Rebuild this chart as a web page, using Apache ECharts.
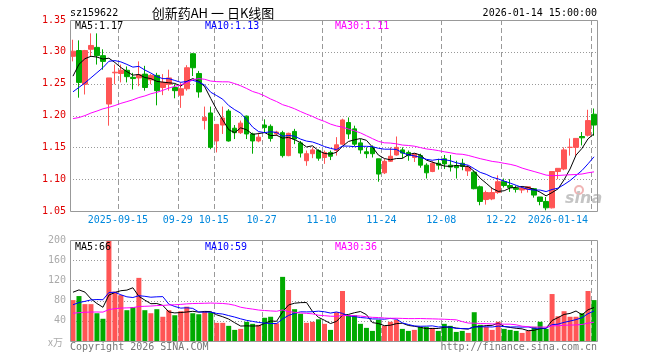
<!DOCTYPE html>
<html><head><meta charset="utf-8">
<script src="https://cdn.jsdelivr.net/npm/echarts@6/dist/echarts.min.js"></script>
<style>html,body{margin:0;padding:0;background:#fff}#c{width:660px;height:360px}</style>
</head><body><div id="c"></div>
<script>
// ---- data ----
const dates = [
 '2025-09-03','2025-09-04','2025-09-05','2025-09-08','2025-09-09','2025-09-10','2025-09-11','2025-09-12',
 '2025-09-15','2025-09-16','2025-09-17','2025-09-18','2025-09-19','2025-09-22','2025-09-23','2025-09-24','2025-09-25','2025-09-26','2025-09-29','2025-09-30',
 '2025-10-09','2025-10-10','2025-10-13','2025-10-14','2025-10-15','2025-10-16','2025-10-17','2025-10-20','2025-10-21','2025-10-22','2025-10-23','2025-10-24','2025-10-27','2025-10-28','2025-10-29','2025-10-30','2025-10-31',
 '2025-11-03','2025-11-04','2025-11-05','2025-11-06','2025-11-07','2025-11-10','2025-11-11','2025-11-12','2025-11-13','2025-11-14','2025-11-17','2025-11-18','2025-11-19','2025-11-20','2025-11-21','2025-11-24','2025-11-25','2025-11-26','2025-11-27','2025-11-28',
 '2025-12-01','2025-12-02','2025-12-03','2025-12-04','2025-12-05','2025-12-08','2025-12-09','2025-12-10','2025-12-11','2025-12-12','2025-12-15','2025-12-16','2025-12-17','2025-12-18','2025-12-19','2025-12-22','2025-12-23','2025-12-24','2025-12-25','2025-12-26','2025-12-29','2025-12-30','2025-12-31',
 '2026-01-05','2026-01-06','2026-01-07','2026-01-08','2026-01-09','2026-01-12','2026-01-13','2026-01-14'
];
const opens = [
 1.293,1.302,1.249,1.304,1.307,1.294,1.218,1.267,1.266,1.271,
 1.260,1.259,1.265,1.256,1.263,1.244,1.249,1.244,1.232,1.242,
 1.297,1.266,1.192,1.204,1.160,1.185,1.207,1.180,1.173,1.199,
 1.171,1.160,1.185,1.183,1.171,1.173,1.137,1.175,1.157,1.129,
 1.140,1.145,1.134,1.142,1.145,1.155,1.189,1.179,1.157,1.143,
 1.150,1.132,1.110,1.128,1.138,1.146,1.142,1.134,1.137,1.122,
 1.112,1.125,1.132,1.122,1.121,1.125,1.113,1.111,1.088,1.068,
 1.069,1.079,1.096,1.090,1.086,1.083,1.084,1.085,1.072,1.065,
 1.055,1.112,1.116,1.150,1.150,1.167,1.169,1.202
];
const closes = [
 1.301,1.252,1.302,1.310,1.294,1.285,1.259,1.268,1.271,1.261,
 1.258,1.264,1.244,1.263,1.239,1.252,1.259,1.239,1.242,1.275,
 1.275,1.237,1.197,1.150,1.186,1.196,1.160,1.173,1.188,1.171,
 1.160,1.166,1.181,1.164,1.174,1.137,1.172,1.163,1.141,1.140,
 1.146,1.133,1.142,1.136,1.154,1.193,1.171,1.155,1.146,1.140,
 1.140,1.108,1.128,1.136,1.150,1.141,1.137,1.140,1.122,1.110,
 1.125,1.122,1.124,1.119,1.118,1.120,1.119,1.085,1.065,1.079,
 1.079,1.096,1.090,1.087,1.084,1.086,1.088,1.075,1.065,1.055,
 1.112,1.117,1.146,1.150,1.164,1.165,1.192,1.185
];
const lows = [
 1.285,1.228,1.233,1.293,1.280,1.272,1.184,1.249,1.252,1.252,
 1.241,1.246,1.239,1.249,1.216,1.232,1.239,1.227,1.212,1.239,
 1.262,1.228,1.178,1.147,1.142,1.171,1.159,1.163,1.171,1.163,
 1.140,1.158,1.173,1.159,1.168,1.134,1.136,1.155,1.134,1.121,
 1.133,1.129,1.124,1.130,1.137,1.154,1.163,1.152,1.140,1.133,
 1.134,1.096,1.108,1.127,1.137,1.133,1.129,1.127,1.118,1.101,
 1.111,1.115,1.116,1.112,1.101,1.114,1.105,1.084,1.059,1.060,
 1.067,1.077,1.087,1.080,1.079,1.078,1.079,1.071,1.059,1.051,
 1.054,1.100,1.114,1.137,1.137,1.153,1.167,1.168
];
const highs = [
 1.319,1.318,1.303,1.329,1.329,1.304,1.259,1.280,1.280,1.277,
 1.267,1.285,1.278,1.265,1.267,1.265,1.272,1.249,1.252,1.279,
 1.298,1.270,1.214,1.214,1.186,1.214,1.210,1.185,1.192,1.200,
 1.173,1.173,1.194,1.186,1.176,1.176,1.173,1.179,1.160,1.145,
 1.150,1.147,1.145,1.145,1.166,1.195,1.197,1.184,1.163,1.150,
 1.153,1.132,1.132,1.150,1.167,1.150,1.145,1.140,1.140,1.125,
 1.128,1.132,1.138,1.138,1.129,1.132,1.122,1.113,1.090,1.082,
 1.087,1.106,1.101,1.100,1.090,1.088,1.088,1.086,1.072,1.072,
 1.112,1.117,1.150,1.164,1.164,1.174,1.209,1.211
];
// volume, unit 万
const volumes = [
 81,89,73,73,55,44,210,98,91,61,
 67,125,61,55,63,48,61,51,59,68,
 55,53,58,57,36,36,30,22,24,38,
 34,32,46,48,35,127,101,63,54,36,
 38,43,34,22,57,99,51,51,34,26,
 20,42,30,38,42,24,20,22,28,28,
 26,20,34,30,18,20,16,57,32,28,
 22,38,24,22,20,16,20,28,38,24,
 93,49,59,48,48,55,99,81
];
// sessions before the first visible day, estimated from where the MA lines start
const priorCloses = [
 1.20,1.21,1.19,1.20,1.18,1.19,1.18,1.17,1.18,1.17,
 1.16,1.17,1.16,1.17,1.16,1.15,1.16,1.17,1.16,1.15,
 1.182,1.232,1.230,1.214,1.205,1.159,1.258,1.291,1.300
];
const priorVolumes = [
 55,48,60,52,50,58,47,55,50,53,56,50,
 40,35,38,34,40,36,38,35,
 45,50,44,48,48,66,95,140,101
];
const tickDates = ['2025-09-15','2025-09-29','2025-10-15','2025-10-27','2025-11-10','2025-11-24','2025-12-08','2025-12-22','2026-01-14'];
const tickLabels = ['2025-09-15','09-29','10-15','10-27','11-10','11-24','12-08','12-22','2026-01-14'];
const priceMin = 1.05, priceMax = 1.35, priceStep = 0.05;
const volMin = 0, volMax = 200, volStep = 40;
const mainLegend = ['MA5:1.17', 'MA10:1.13', 'MA30:1.11'];
const volLegend = ['MA5:66', 'MA10:59', 'MA30:36'];
const maPeriods = [5, 10, 30];
const maColors = ['#000000', '#0000ff', '#ff00ff'];

// ---- build ----
function movingAvg(prior, cur, n) {
  const all = prior.concat(cur), out = [];
  for (let i = prior.length; i < all.length; i++) {
    let s = 0;
    for (let j = i - n + 1; j <= i; j++) s += all[j];
    out.push(+(s / n).toFixed(4));
  }
  return out;
}
function innerTicks(min, max, step) {
  const out = [];
  for (let k = 1; min + k * step < max - step / 2; k++) out.push(+(min + k * step).toFixed(4));
  return out;
}
const RED = '#ff5555', GREEN = '#00aa00', GRIDLINE = '#999';
const kData = dates.map((d, i) => [opens[i], closes[i], lows[i], highs[i]]);
const isUp = dates.map((d, i) => closes[i] > opens[i] || (closes[i] === opens[i] && (i === 0 || closes[i] >= closes[i - 1])));
const volData = volumes.map((v, i) => ({ value: v, itemStyle: { color: isUp[i] ? RED : GREEN } }));
const tickSet = new Set(tickDates);
const tickIdx = (idx, val) => tickSet.has(val);
const labelOf = val => tickLabels[tickDates.indexOf(val)] || '';
const tickPos = tickDates.map(d => dates.indexOf(d));
const MONO = 'DejaVu Sans Mono';
const crisp = v => Math.round(v) + 0.5;

// grids are not drawn by the grid component (its panel is painted above low-z content);
// border and grid lines come from custom series instead
const gridDefaults = { left: 70, right: 63, show: false };

function frame(xIdx, yIdx, yVal) {
  return {
    type: 'custom', xAxisIndex: xIdx, yAxisIndex: yIdx, silent: true, z: 5, clip: false,
    data: [[0, yVal]],
    renderItem: (params, api) => {
      const cs = params.coordSys;
      return { type: 'rect', shape: { x: crisp(cs.x), y: crisp(cs.y), width: Math.round(cs.width), height: Math.round(cs.height) },
        style: { stroke: '#999', lineWidth: 1, fill: null } };
    }
  };
}
function vLines(xIdx, yIdx, yVal) {
  return {
    type: 'custom', xAxisIndex: xIdx, yAxisIndex: yIdx, silent: true, z: 2, clip: false,
    data: tickPos.map(p => [p, yVal]),
    renderItem: (params, api) => {
      const cs = params.coordSys;
      const x = crisp(api.coord([api.value(0), yVal])[0] - api.size([1, 0])[0] / 2);
      return { type: 'line', shape: { x1: x, y1: cs.y, x2: x, y2: cs.y + cs.height },
        style: { stroke: GRIDLINE, lineWidth: 1, lineDash: [5, 3], fill: null } };
    }
  };
}
function hLines(xIdx, yIdx, vals) {
  return {
    type: 'custom', xAxisIndex: xIdx, yAxisIndex: yIdx, silent: true, z: 2, clip: false,
    data: vals.map(v => [0, v]),
    renderItem: (params, api) => {
      const cs = params.coordSys;
      const y = crisp(api.coord([0, api.value(1)])[1]);
      return { type: 'line', shape: { x1: cs.x, y1: y, x2: cs.x + cs.width, y2: y },
        style: { stroke: GRIDLINE, lineWidth: 1, lineDash: [1, 2], fill: null } };
    }
  };
}

const series = [
  hLines(0, 0, innerTicks(priceMin, priceMax, priceStep)),
  vLines(0, 0, priceMin),
  frame(0, 0, priceMin),
  hLines(1, 1, innerTicks(volMin, volMax, volStep)),
  vLines(1, 1, volMin),
  frame(1, 1, volMin),
  {
    type: 'candlestick', xAxisIndex: 0, yAxisIndex: 0, data: kData, barWidth: 5, z: 3,
    itemStyle: { color: RED, color0: GREEN, borderColor: RED, borderColor0: GREEN, borderColorDoji: RED, borderWidth: 1 },
    silent: true
  }
];
maPeriods.forEach((p, k) => {
  series.push({ type: 'line', xAxisIndex: 0, yAxisIndex: 0, data: movingAvg(priorCloses, closes, p),
    symbol: 'none', silent: true, lineStyle: { color: maColors[k], width: 1 }, z: 4 });
});
series.push({ type: 'bar', xAxisIndex: 1, yAxisIndex: 1, data: volData, barWidth: 5, clip: true, silent: true, z: 3 });
maPeriods.forEach((p, k) => {
  series.push({ type: 'line', xAxisIndex: 1, yAxisIndex: 1, data: movingAvg(priorVolumes, volumes, p),
    symbol: 'none', silent: true, lineStyle: { color: maColors[k], width: 1 }, z: 4 });
});

const txt = (x, y, s, color, align, font) => ({
  type: 'text', x, y, silent: true, z: 100,
  style: { text: s, fill: color, font: font || ('10px ' + MONO), textAlign: align || 'left', textVerticalAlign: 'middle' }
});
const graphics = [
  txt(70, 13, 'sz159622', '#000'),
  txt(213, 13, '创新药AH 一 日K线图', '#000', 'center', '13px "Noto Sans CJK SC"'),
  txt(597, 13, '2026-01-14 15:00:00', '#000', 'right'),
  txt(75, 26, mainLegend[0], maColors[0]),
  txt(205, 26, mainLegend[1], maColors[1]),
  txt(335, 26, mainLegend[2], maColors[2]),
  txt(75, 247, volLegend[0], maColors[0]),
  txt(205, 247, volLegend[1], maColors[1]),
  txt(335, 247, volLegend[2], maColors[2]),
  txt(63, 342, 'x万', '#aaa', 'right', '10px "Noto Sans CJK SC"'),
  txt(70, 347, 'Copyright 2026 SINA.COM', '#777'),
  txt(597, 347, 'http://finance.sina.com.cn', '#777', 'right'),
  { type: 'circle', shape: { cx: 579, cy: 190, r: 4 }, silent: true, z: 1,
    style: { fill: 'none', stroke: '#f0b4b4', lineWidth: 2 } },
  txt(565, 199, 'sina', '#c4c4c4', 'left', 'italic bold 16px "DejaVu Sans"')
];
graphics[graphics.length - 1].z = 1;

const chart = echarts.init(document.getElementById('c'), null, { renderer: 'canvas' });
chart.setOption({
  animation: false,
  backgroundColor: '#fff',
  grid: [Object.assign({ top: 20, height: 191 }, gridDefaults), Object.assign({ top: 240, height: 101 }, gridDefaults)],
  xAxis: [
    { type: 'category', gridIndex: 0, data: dates, boundaryGap: true,
      axisLine: { show: false }, axisTick: { show: false },
      axisLabel: { interval: tickIdx, formatter: labelOf, color: '#0088dd', fontFamily: MONO, fontSize: 10,
        margin: 4, padding: [0, 6, 0, 0], alignMaxLabel: 'right' },
      splitLine: { show: false } },
    { type: 'category', gridIndex: 1, data: dates, boundaryGap: true,
      axisLine: { show: false }, axisTick: { show: false }, axisLabel: { show: false },
      splitLine: { show: false } }
  ],
  yAxis: [
    { type: 'value', gridIndex: 0, min: priceMin, max: priceMax, interval: priceStep,
      axisLine: { show: false }, axisTick: { show: false },
      axisLabel: { color: '#e00000', fontFamily: MONO, fontSize: 10, margin: 4, formatter: v => v.toFixed(2) },
      splitLine: { show: false } },
    { type: 'value', gridIndex: 1, min: volMin, max: volMax, interval: volStep,
      axisLine: { show: false }, axisTick: { show: false },
      axisLabel: { color: '#aaa', fontFamily: MONO, fontSize: 10, margin: 4, formatter: v => v === 0 ? '' : String(v) },
      splitLine: { show: false } }
  ],
  series: series,
  graphic: graphics
});
</script>
</body></html>
